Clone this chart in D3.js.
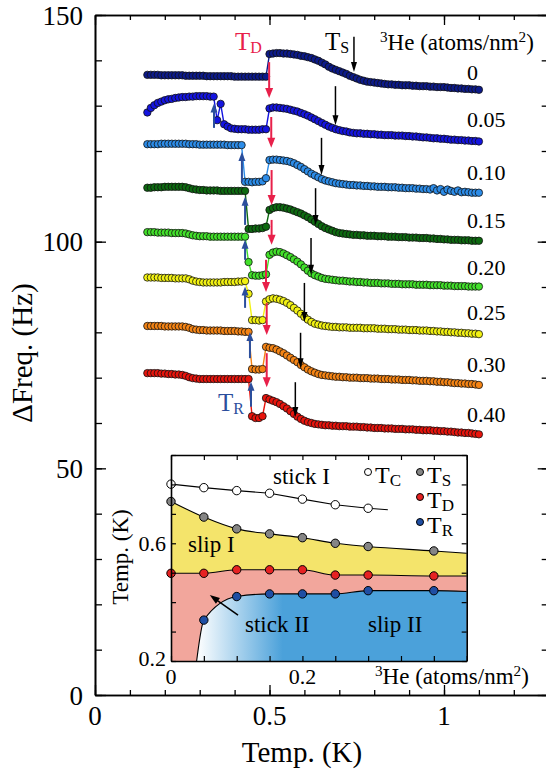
<!DOCTYPE html>
<html>
<head>
<meta charset="utf-8">
<script src="https://cdn.jsdelivr.net/npm/d3@7"></script>
<style>
body { margin: 0; background: #fff; }
svg { display: block; }
text { font-family: "Liberation Serif", "DejaVu Serif", serif; }
</style>
</head>
<body>
<div id="chart"></div>
<script>
// temperature grid (K) shared by all traces
var temps = [0.15,0.16,0.17,0.18,0.19,0.2,0.21,0.22,0.23,0.24,
  0.25,0.26,0.27,0.28,0.29,0.3,0.31,0.32,0.33,0.34,
  0.35,0.36,0.37,0.38,0.39,0.4,0.41,0.42,0.43,0.44,
  0.45,0.46,0.47,0.48,0.49,0.5,0.51,0.52,0.53,0.54,
  0.55,0.56,0.57,0.58,0.59,0.6,0.61,0.62,0.63,0.64,
  0.65,0.66,0.67,0.68,0.69,0.7,0.71,0.72,0.73,0.74,
  0.75,0.76,0.77,0.78,0.79,0.8,0.81,0.82,0.83,0.84,
  0.85,0.86,0.87,0.88,0.89,0.9,0.91,0.92,0.93,0.94,
  0.95,0.96,0.97,0.98,0.99,1.0,1.01,1.02,1.03,1.04,
  1.05,1.06,1.07,1.08,1.09,1.1];

var coverages = ["0", "0.05", "0.10", "0.15", "0.20", "0.25", "0.30", "0.40"];
var seriesColors = ["#0c1a8a", "#1414e0", "#2c8ce8", "#0d6a10", "#42e02a", "#f2f212", "#f58414", "#e8140c"];

var freq000 = [136.8,136.8,136.8,136.8,136.7,136.7,136.7,136.7,136.7,136.7,
  136.7,136.6,136.6,136.6,136.6,136.6,136.6,136.5,136.5,136.5,
  136.5,136.5,136.5,136.5,136.5,136.4,136.4,136.4,136.4,136.4,
  136.4,136.4,136.4,136.4,136.4,141.4,141.5,141.6,141.6,141.5,
  141.5,141.4,141.3,141.2,141.0,140.9,140.7,140.5,140.2,139.9,
  139.5,139.1,138.6,138.2,137.9,137.6,137.3,137.0,136.6,136.3,
  136.0,135.7,135.5,135.3,135.2,135.1,135.0,134.9,134.8,134.7,
  134.7,134.6,134.6,134.5,134.5,134.5,134.4,134.4,134.3,134.3,
  134.3,134.2,134.2,134.1,134.1,134.1,134.0,133.9,133.9,133.8,
  133.8,133.7,133.7,133.6,133.6,133.5];
var freq005 = [128.5,129.5,130.1,130.6,130.9,131.2,131.4,131.5,131.7,131.8,
  131.9,131.9,132.0,132.0,132.1,132.1,132.1,132.1,132.0,132.0,
  126.8,130.4,125.9,125.4,125.0,124.9,124.8,124.8,124.8,124.7,
  124.7,124.7,124.7,124.8,124.8,129.4,129.6,129.6,129.5,129.4,
  129.3,129.1,128.9,128.7,128.4,128.1,127.8,127.4,127.0,126.6,
  126.2,125.8,125.4,125.1,124.8,124.6,124.4,124.3,124.1,124.0,
  123.9,123.9,123.8,123.8,123.7,123.7,123.6,123.6,123.5,123.5,
  123.5,123.4,123.4,123.4,123.3,123.3,123.2,123.2,123.1,123.0,
  123.0,122.9,122.8,122.8,122.7,122.7,122.6,122.5,122.5,122.4,
  122.4,122.3,122.3,122.2,122.2,122.1];
var freq010 = [121.5,121.5,121.5,121.5,121.6,121.6,121.6,121.6,121.6,121.6,
  121.6,121.6,121.5,121.5,121.5,121.4,121.4,121.4,121.4,121.4,
  121.4,121.4,121.4,121.3,121.3,121.3,121.3,121.3,113.2,113.2,
  113.1,113.2,113.2,113.3,114.0,118.0,118.1,118.1,118.0,117.9,
  117.8,117.6,117.3,116.9,116.5,116.0,115.5,115.0,114.6,114.2,
  113.8,113.5,113.3,113.1,112.9,112.8,112.7,112.6,112.5,112.5,
  112.4,112.4,112.3,112.3,112.2,112.2,112.1,112.1,112.1,112.0,
  112.0,112.0,111.9,111.9,111.8,111.8,111.8,111.7,111.7,111.6,
  111.6,111.5,111.8,111.3,111.6,111.0,111.5,111.2,111.0,111.3,
  110.9,111.0,110.9,110.8,110.8,110.8];
var freq015 = [111.9,111.9,112.0,112.0,112.0,112.1,112.1,112.1,112.1,112.1,
  112.1,112.0,111.8,111.6,111.5,111.4,111.4,111.3,111.3,111.3,
  111.3,111.2,111.2,111.2,111.2,111.2,111.2,111.2,111.2,102.8,
  102.8,102.9,102.9,103.0,103.3,107.0,107.4,107.6,107.6,107.5,
  107.3,107.1,106.8,106.5,106.2,105.8,105.4,104.9,104.4,103.9,
  103.4,103.0,102.7,102.4,102.1,101.9,101.8,101.7,101.6,101.5,
  101.5,101.4,101.4,101.3,101.3,101.3,101.2,101.2,101.2,101.1,
  101.1,101.1,101.0,101.0,101.0,100.9,100.9,100.9,100.8,100.8,
  100.8,100.7,100.7,100.6,100.6,100.5,100.5,100.4,100.4,100.4,
  100.3,100.3,100.3,100.2,100.2,100.2];
var freq020 = [102.1,102.1,102.1,102.0,102.0,102.0,102.0,101.9,101.9,101.9,
  101.9,101.8,101.6,101.4,101.3,101.2,101.2,101.2,101.1,101.1,
  101.1,101.1,101.1,101.1,101.1,101.1,101.1,101.1,101.1,95.5,
  92.6,92.5,92.5,92.6,92.8,97.1,97.6,97.8,97.7,97.4,
  97.0,96.6,96.1,95.6,95.0,94.3,93.6,93.0,92.6,92.3,
  92.0,91.8,91.7,91.6,91.5,91.4,91.4,91.3,91.2,91.2,
  91.1,91.1,91.0,91.0,90.9,90.9,90.9,90.8,90.8,90.8,
  90.7,90.7,90.7,90.6,90.6,90.6,90.6,90.5,90.5,90.5,
  90.5,90.4,90.4,90.4,90.4,90.3,90.3,90.3,90.2,90.2,
  90.2,90.2,90.1,90.1,90.1,90.1];
var freq025 = [92.1,92.1,92.1,92.1,92.0,92.0,92.0,92.0,91.9,91.9,
  91.9,91.9,91.7,91.4,91.2,91.1,91.0,91.0,91.0,91.0,
  91.0,91.0,91.1,91.1,91.1,91.1,91.2,91.2,91.3,88.5,
  82.7,82.7,82.6,82.7,86.8,87.3,87.5,87.4,87.2,86.9,
  86.5,86.0,85.4,84.8,84.1,83.4,82.8,82.3,81.9,81.7,
  81.5,81.4,81.3,81.2,81.2,81.1,81.1,81.1,81.0,81.0,
  81.0,81.0,80.9,80.9,80.9,80.9,80.8,80.8,80.8,80.7,
  80.7,80.7,80.6,80.6,80.6,80.5,80.5,80.5,80.4,80.4,
  80.4,80.3,80.3,80.2,80.2,80.1,80.1,80.0,80.0,79.9,
  79.9,79.8,79.8,79.7,79.7,79.6];
var freq030 = [81.4,81.4,81.4,81.4,81.4,81.3,81.3,81.3,81.3,81.3,
  81.3,81.2,81.0,80.7,80.6,80.5,80.5,80.4,80.4,80.4,
  80.4,80.4,80.3,80.3,80.3,80.3,80.2,80.2,80.1,80.1,
  71.9,71.8,71.8,71.9,76.8,76.6,76.5,76.2,75.8,75.4,
  74.9,74.4,73.9,73.4,72.8,72.3,71.8,71.4,71.1,70.8,
  70.6,70.5,70.4,70.3,70.2,70.2,70.1,70.1,70.0,70.0,
  70.0,69.9,69.9,69.9,69.8,69.8,69.8,69.7,69.7,69.7,
  69.6,69.6,69.6,69.5,69.5,69.5,69.4,69.4,69.3,69.3,
  69.3,69.2,69.2,69.1,69.1,69.0,69.0,68.9,68.8,68.8,
  68.7,68.7,68.6,68.6,68.5,68.4];
var freq040 = [71.0,71.0,71.0,71.0,70.9,70.9,70.8,70.8,70.7,70.7,
  70.6,70.4,70.1,69.9,69.8,69.7,69.7,69.7,69.7,69.7,
  69.7,69.7,69.7,69.7,69.7,69.7,69.7,69.7,69.7,69.7,
  61.5,61.1,61.1,61.5,65.5,65.2,64.9,64.6,64.2,63.7,
  63.2,62.6,62.0,61.4,60.9,60.5,60.2,60.0,59.8,59.7,
  59.6,59.5,59.5,59.4,59.4,59.3,59.3,59.3,59.2,59.2,
  59.2,59.1,59.1,59.0,59.0,58.9,58.9,58.9,58.8,58.8,
  58.8,58.7,58.7,58.7,58.6,58.6,58.6,58.5,58.5,58.4,
  58.4,58.4,58.3,58.3,58.2,58.2,58.1,58.1,58.0,57.9,
  57.9,57.8,57.8,57.7,57.6,57.5];
var freqs = [freq000, freq005, freq010, freq015, freq020, freq025, freq030, freq040];

// where each coverage label sits (Hz)
var labelFreq = [135.7, 125.3, 113.6, 103.0, 92.7, 82.7, 71.3, 60.2];

// T_R arrows (up): T, from, to ; T_D arrows (down); T_S arrows (down)
var trArrowT = [0.341, 0.421, 0.43, 0.43, 0.43, 0.444, 0.447];
var trArrowFrom = [125.1, 113.2, 103.7, 96.0, 85.4, 74.3, 63.6];
var trArrowTo = [130.5, 119.8, 109.9, 100.4, 90.1, 80.1, 69.1];
var tdArrowT = [0.499, 0.505, 0.506, 0.506, 0.49, 0.492, 0.492];
var tdArrowFrom = [139.6, 127.5, 115.8, 104.8, 96.0, 86.5, 75.4];
var tdArrowTo = [131.7, 120.7, 108.1, 99.3, 88.9, 79.4, 67.9];
var tsArrowFrom = [145.2, 134.3, 122.9, 111.8, 100.8, 90.9, 79.9, 69.0];
var tsArrowTo = [137.4, 125.7, 114.7, 103.7, 92.7, 82.3, 72.1, 61.3];

// inset: phase diagram
var insetCov = [0, 0.05, 0.10, 0.15, 0.20, 0.25, 0.30, 0.40];
var tcVals = [0.801, 0.789, 0.779, 0.770, 0.750, 0.731, 0.719];
var tsVals = [0.742, 0.689, 0.649, 0.632, 0.619, 0.600, 0.589, 0.574];
var tdVals = [0.498, 0.498, 0.510, 0.510, 0.510, 0.492, 0.492, 0.489];
var trVals = [null, 0.339, 0.419, 0.428, 0.428, 0.428, 0.439, 0.439];
var tcLineEnd = [0.33, 0.714];
var tsEdge = 0.566, tdEdge = 0.489, trEdge = 0.436, trStartCov = 0.039;

var xTicks = [0,0.1,0.2,0.3,0.4,0.5,0.6,0.7,0.8,0.9,1.0,1.1,1.2];
var xMajor = [0, 0.5, 1];
var yTicks = [0,10,20,30,40,50,60,70,80,90,100,110,120,130,140,150];
var yMajor = [0, 50, 100, 150];
var xiTicks = [0,0.05,0.1,0.15,0.2,0.25,0.3,0.35,0.4,0.45];
var yiTicks = [0.2,0.3,0.4,0.5,0.6,0.7,0.8,0.9];

var W = 546, H = 771;
var x = d3.scaleLinear().domain([0, 1.3]).range([95, 548.7]);
var y = d3.scaleLinear().domain([0, 150]).range([695, 15]);
var xi = d3.scaleLinear().domain([0, 0.45]).range([171, 466.7]);
var yi = d3.scaleLinear().domain([0.2, 0.9]).range([661, 455]);

var svg = d3.select("#chart").append("svg").attr("width", W).attr("height", H)
    .attr("font-family", "'Liberation Serif', 'DejaVu Serif', serif");

function arrow(g, x1, y1, x2, y2, color, lw, hl, hw) {
    var dx = x2 - x1, dy = y2 - y1, len = Math.sqrt(dx * dx + dy * dy);
    var ux = dx / len, uy = dy / len;
    var bx = x2 - ux * hl, by = y2 - uy * hl;
    g.append("line")
        .attr("x1", x1).attr("y1", y1)
        .attr("x2", bx + ux).attr("y2", by + uy)
        .attr("stroke", color).attr("stroke-width", lw);
    g.append("path")
        .attr("d", "M" + x2 + "," + y2 +
            "L" + (bx - uy * hw / 2) + "," + (by + ux * hw / 2) +
            "L" + (bx + uy * hw / 2) + "," + (by - ux * hw / 2) + "Z")
        .attr("fill", color);
}

function subText(g, px, py, main, sub, size, subSize, color) {
    var t = g.append("text").attr("x", px).attr("y", py)
        .attr("font-size", size).attr("fill", color);
    t.append("tspan").text(main);
    t.append("tspan").attr("dy", 3).attr("font-size", subSize).text(sub);
    return t;
}

function heLabel(g, px, py, size) {
    var t = g.append("text").attr("x", px).attr("y", py).attr("font-size", size);
    t.append("tspan").attr("font-size", size * 0.66).attr("dy", -8).text("3");
    t.append("tspan").attr("dy", 8).text("He (atoms/nm");
    t.append("tspan").attr("font-size", size * 0.66).attr("dy", -8).text("2");
    t.append("tspan").attr("dy", 8).text(")");
}

// ---------- main axes ----------
function tickAxis(axisFn, scale, vals, size, tr) {
    var a = svg.append("g").attr("transform", tr)
        .call(axisFn(scale).tickValues(vals).tickSize(size).tickSizeOuter(0).tickFormat(""));
    a.selectAll("line").attr("stroke", "#000").attr("stroke-width", 1.3);
    a.select(".domain").attr("stroke", "#000").attr("stroke-width", 1.6);
    return a;
}
tickAxis(d3.axisBottom, x, xTicks, -5, "translate(0,695)");
tickAxis(d3.axisBottom, x, xMajor, -10, "translate(0,695)");
tickAxis(d3.axisTop, x, xTicks, -5, "translate(0,15)");
tickAxis(d3.axisTop, x, xMajor, -10, "translate(0,15)");
tickAxis(d3.axisLeft, y, yTicks, -7, "translate(95,0)");
tickAxis(d3.axisLeft, y, yMajor, -11, "translate(95,0)");
tickAxis(d3.axisRight, y, yTicks, -7, "translate(548.7,0)");
tickAxis(d3.axisRight, y, yMajor, -11, "translate(548.7,0)");

svg.selectAll(".xlab").data(xMajor).enter().append("text")
    .attr("x", function(d) { return x(d); }).attr("y", 725)
    .attr("text-anchor", "middle").attr("font-size", 27)
    .text(function(d) { return d; });
svg.selectAll(".ylab").data(yMajor).enter().append("text")
    .attr("x", 83).attr("y", function(d) { return y(d) + 9.5; })
    .attr("text-anchor", "end").attr("font-size", 27)
    .text(function(d) { return d; });

svg.append("text").attr("x", 302).attr("y", 762)
    .attr("text-anchor", "middle").attr("font-size", 29).text("Temp. (K)");
svg.append("text").attr("transform", "translate(32,353) rotate(-90)")
    .attr("text-anchor", "middle").attr("font-size", 29).text("\u0394Freq. (Hz)");

// ---------- traces ----------
var line = d3.line()
    .x(function(d) { return x(d[0]); })
    .y(function(d) { return y(d[1]); });

freqs.forEach(function(vals, si) {
    var pts = temps.map(function(t, i) { return [t, vals[i]]; });
    var g = svg.append("g");
    g.append("path").datum(pts).attr("d", line)
        .attr("fill", "none").attr("stroke", seriesColors[si]).attr("stroke-width", 1.4);
    g.selectAll("circle").data(pts).enter().append("circle")
        .attr("cx", function(d) { return x(d[0]); })
        .attr("cy", function(d) { return y(d[1]); })
        .attr("r", 3.7)
        .attr("fill", seriesColors[si])
        .attr("stroke", "#111").attr("stroke-width", 0.8);
});

// ---------- arrows ----------
var arrows = svg.append("g");
trArrowT.forEach(function(t, i) {
    arrow(arrows, x(t), y(trArrowFrom[i]), x(t), y(trArrowTo[i]), "#2b4e9c", 2, 9, 7);
});
tdArrowT.forEach(function(t, i) {
    arrow(arrows, x(t), y(tdArrowFrom[i]), x(t), y(tdArrowTo[i]), "#e8204a", 2, 10, 8);
});
tsVals.forEach(function(t, i) {
    arrow(arrows, x(t), y(tsArrowFrom[i]), x(t), y(tsArrowTo[i]), "#000", 1.5, 10, 6);
});

// coverage labels
svg.selectAll(".cov").data(coverages).enter().append("text")
    .attr("x", 467).attr("y", function(d, i) { return y(labelFreq[i]); })
    .attr("font-size", 22).text(function(d) { return d; });

subText(svg, 325, 50, "T", "S", 25, 16, "#000");
subText(svg, 235, 50, "T", "D", 25, 16, "#e8204a");
subText(svg, 218, 411, "T", "R", 25, 16, "#2b4e9c");
heLabel(svg, 380, 50, 23);

// ---------- inset ----------
var ins = svg.append("g");
ins.append("rect").attr("x", xi(0)).attr("y", yi(0.9))
    .attr("width", xi(0.45) - xi(0)).attr("height", yi(0.2) - yi(0.9)).attr("fill", "#fff");

var grad = svg.append("defs").append("linearGradient").attr("id", "blueGrad")
    .attr("gradientUnits", "userSpaceOnUse")
    .attr("x1", xi(trStartCov)).attr("x2", xi(0.17)).attr("y1", 0).attr("y2", 0);
grad.append("stop").attr("offset", 0).attr("stop-color", "#ffffff");
grad.append("stop").attr("offset", 1).attr("stop-color", "#4ba1da");

var tsPts = insetCov.map(function(c, i) { return [c, tsVals[i]]; }).concat([[0.45, tsEdge]]);
var tdPts = insetCov.map(function(c, i) { return [c, tdVals[i]]; }).concat([[0.45, tdEdge]]);
var trPts = [[trStartCov, 0.2]].concat(insetCov.slice(1).map(function(c, i) { return [c, trVals[i + 1]]; }))
    .concat([[0.45, trEdge]]);
var tcPts = tcVals.map(function(v, i) { return [insetCov[i], v]; }).concat([tcLineEnd]);

var areaBetween = d3.area().curve(d3.curveMonotoneX)
    .x(function(d) { return xi(d[0]); })
    .y0(function(d) { return yi(d[2]); })
    .y1(function(d) { return yi(d[1]); });

// yellow: between T_D and T_S
ins.append("path")
    .datum(tsPts.map(function(p, i) { return [p[0], p[1], tdPts[i][1]]; }))
    .attr("d", areaBetween).attr("fill", "#f4e46b");
// pink: below T_D
ins.append("path")
    .datum(tdPts.map(function(p) { return [p[0], p[1], 0.2]; }))
    .attr("d", areaBetween).attr("fill", "#f2a69c");
// blue: below T_R
ins.append("path")
    .datum(trPts.map(function(p) { return [p[0], p[1], 0.2]; }))
    .attr("d", areaBetween).attr("fill", "url(#blueGrad)");

var iline = d3.line().curve(d3.curveMonotoneX)
    .x(function(d) { return xi(d[0]); }).y(function(d) { return yi(d[1]); });
[tsPts, tdPts, trPts].forEach(function(p) {
    ins.append("path").datum(p).attr("d", iline)
        .attr("fill", "none").attr("stroke", "#000").attr("stroke-width", 1.1);
});
ins.append("path").datum(tcPts).attr("d", iline.curve(d3.curveLinear))
    .attr("fill", "none").attr("stroke", "#000").attr("stroke-width", 1.1);

function insetMarks(vals, color) {
    var pts = [];
    vals.forEach(function(v, i) { if (v !== null) pts.push([insetCov[i], v]); });
    ins.append("g").selectAll("circle").data(pts).enter().append("circle")
        .attr("cx", function(d) { return xi(d[0]); })
        .attr("cy", function(d) { return yi(d[1]); })
        .attr("r", 4.2).attr("fill", color)
        .attr("stroke", "#000").attr("stroke-width", 1);
}
insetMarks(tcVals, "#fff");
insetMarks(tsVals, "#858585");
insetMarks(tdVals, "#e62222");
insetMarks(trVals, "#1f4ea3");

// inset frame and ticks
function insetAxis(axisFn, scale, vals, tr) {
    var a = ins.append("g").attr("transform", tr)
        .call(axisFn(scale).tickValues(vals).tickSize(-5).tickSizeOuter(0).tickFormat(""));
    a.selectAll("line").attr("stroke", "#000").attr("stroke-width", 1.2);
    a.select(".domain").attr("stroke", "#000").attr("stroke-width", 1.6);
}
insetAxis(d3.axisBottom, xi, xiTicks, "translate(0," + yi(0.2) + ")");
insetAxis(d3.axisTop, xi, xiTicks, "translate(0," + yi(0.9) + ")");
insetAxis(d3.axisLeft, yi, yiTicks, "translate(" + xi(0) + ",0)");
insetAxis(d3.axisRight, yi, yiTicks, "translate(" + xi(0.45) + ",0)");

ins.selectAll(".xil").data([0, 0.2]).enter().append("text")
    .attr("x", function(d) { return xi(d); }).attr("y", 684)
    .attr("text-anchor", "middle").attr("font-size", 22).text(function(d) { return d; });
ins.selectAll(".yil").data([0.2, 0.6]).enter().append("text")
    .attr("x", 166).attr("y", function(d) { return yi(d) + (d === 0.2 ? 5 : 7.5); })
    .attr("text-anchor", "end").attr("font-size", 22).text(function(d) { return d; });
ins.append("text").attr("transform", "translate(128,557) rotate(-90)")
    .attr("text-anchor", "middle").attr("font-size", 23).text("Temp. (K)");
heLabel(ins, 375, 684, 23);

// region names
ins.append("text").attr("x", 273).attr("y", 484).attr("font-size", 23).text("stick I");
ins.append("text").attr("x", 188).attr("y", 552).attr("font-size", 23).text("slip I");
ins.append("text").attr("x", 245).attr("y", 632).attr("font-size", 23).text("stick II");
ins.append("text").attr("x", 368).attr("y", 632).attr("font-size", 23).text("slip II");
arrow(ins, xi(0.102), yi(0.356), xi(0.059), yi(0.424), "#000", 1.5, 10, 7);

// legend
var legNames = ["C", "S", "D", "R"];
var legColors = ["#fff", "#858585", "#e62222", "#1f4ea3"];
var legX = [368, 420, 420, 420];
var legY = [472, 472, 497, 522];
legNames.forEach(function(n, i) {
    ins.append("circle").attr("cx", legX[i]).attr("cy", legY[i]).attr("r", 3.5)
        .attr("fill", legColors[i]).attr("stroke", "#000").attr("stroke-width", 1);
    subText(ins, legX[i] + 7, legY[i] + 11, "T", n, 24, 17, "#000");
});
</script>
</body>
</html>
